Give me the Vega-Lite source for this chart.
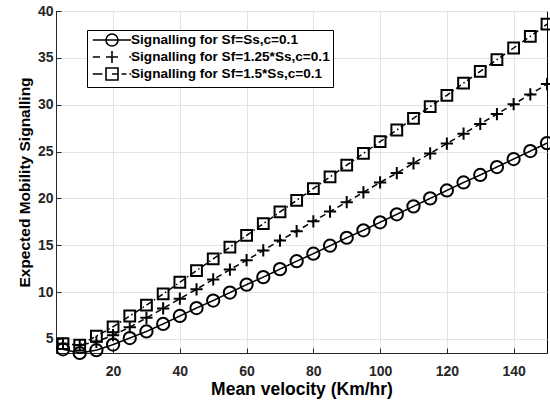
{
  "$schema": "https://vega.github.io/schema/vega-lite/v6.json",
  "width": 491,
  "height": 342,
  "autosize": "none",
  "padding": {"left": 56, "top": 11, "right": 3, "bottom": 48},
  "background": "white",
  "config": {
    "font": "Liberation Sans",
    "view": {"stroke": "black", "strokeWidth": 1},
    "axis": {
      "labelFont": "Liberation Sans",
      "labelFontWeight": "bold",
      "labelFontSize": 14,
      "labelColor": "#262626",
      "titleFont": "Liberation Sans",
      "titleFontWeight": "bold",
      "titleColor": "black",
      "gridColor": "#e3e3e3",
      "gridWidth": 1,
      "domainColor": "#262626",
      "tickColor": "#262626",
      "tickSize": -5
    },
    "legend": {
      "labelFont": "Liberation Sans",
      "labelFontWeight": "bold",
      "labelFontSize": 13.6,
      "labelColor": "black",
      "labelLimit": 400,
      "strokeColor": "black",
      "fillColor": "white",
      "padding": 3,
      "rowPadding": -6,
      "symbolStrokeWidth": 1.6,
      "symbolSize": 144,
      "symbolStrokeColor": "black",
      "symbolFillColor": "transparent",
      "symbolOffset": 15,
      "labelOffset": 12
    }
  },
  "data": {
    "values": [
      {"v": 5, "s": 3.9, "series": "Signalling for Sf=Ss,c=0.1"},
      {"v": 10, "s": 3.5, "series": "Signalling for Sf=Ss,c=0.1"},
      {"v": 15, "s": 3.8, "series": "Signalling for Sf=Ss,c=0.1"},
      {"v": 20, "s": 4.4, "series": "Signalling for Sf=Ss,c=0.1"},
      {"v": 25, "s": 5.1, "series": "Signalling for Sf=Ss,c=0.1"},
      {"v": 30, "s": 5.8, "series": "Signalling for Sf=Ss,c=0.1"},
      {"v": 35, "s": 6.6, "series": "Signalling for Sf=Ss,c=0.1"},
      {"v": 40, "s": 7.45, "series": "Signalling for Sf=Ss,c=0.1"},
      {"v": 45, "s": 8.3, "series": "Signalling for Sf=Ss,c=0.1"},
      {"v": 50, "s": 9.1, "series": "Signalling for Sf=Ss,c=0.1"},
      {"v": 55, "s": 9.95, "series": "Signalling for Sf=Ss,c=0.1"},
      {"v": 60, "s": 10.8, "series": "Signalling for Sf=Ss,c=0.1"},
      {"v": 65, "s": 11.6, "series": "Signalling for Sf=Ss,c=0.1"},
      {"v": 70, "s": 12.45, "series": "Signalling for Sf=Ss,c=0.1"},
      {"v": 75, "s": 13.3, "series": "Signalling for Sf=Ss,c=0.1"},
      {"v": 80, "s": 14.1, "series": "Signalling for Sf=Ss,c=0.1"},
      {"v": 85, "s": 14.95, "series": "Signalling for Sf=Ss,c=0.1"},
      {"v": 90, "s": 15.8, "series": "Signalling for Sf=Ss,c=0.1"},
      {"v": 95, "s": 16.6, "series": "Signalling for Sf=Ss,c=0.1"},
      {"v": 100, "s": 17.45, "series": "Signalling for Sf=Ss,c=0.1"},
      {"v": 105, "s": 18.3, "series": "Signalling for Sf=Ss,c=0.1"},
      {"v": 110, "s": 19.15, "series": "Signalling for Sf=Ss,c=0.1"},
      {"v": 115, "s": 20.0, "series": "Signalling for Sf=Ss,c=0.1"},
      {"v": 120, "s": 20.85, "series": "Signalling for Sf=Ss,c=0.1"},
      {"v": 125, "s": 21.7, "series": "Signalling for Sf=Ss,c=0.1"},
      {"v": 130, "s": 22.5, "series": "Signalling for Sf=Ss,c=0.1"},
      {"v": 135, "s": 23.35, "series": "Signalling for Sf=Ss,c=0.1"},
      {"v": 140, "s": 24.2, "series": "Signalling for Sf=Ss,c=0.1"},
      {"v": 145, "s": 25.05, "series": "Signalling for Sf=Ss,c=0.1"},
      {"v": 150, "s": 25.9, "series": "Signalling for Sf=Ss,c=0.1"},
      {"v": 5, "s": 4.5, "series": "Signalling for Sf=1.25*Ss,c=0.1"},
      {"v": 10, "s": 4.35, "series": "Signalling for Sf=1.25*Ss,c=0.1"},
      {"v": 15, "s": 4.7, "series": "Signalling for Sf=1.25*Ss,c=0.1"},
      {"v": 20, "s": 5.4, "series": "Signalling for Sf=1.25*Ss,c=0.1"},
      {"v": 25, "s": 6.25, "series": "Signalling for Sf=1.25*Ss,c=0.1"},
      {"v": 30, "s": 7.25, "series": "Signalling for Sf=1.25*Ss,c=0.1"},
      {"v": 35, "s": 8.25, "series": "Signalling for Sf=1.25*Ss,c=0.1"},
      {"v": 40, "s": 9.3, "series": "Signalling for Sf=1.25*Ss,c=0.1"},
      {"v": 45, "s": 10.3, "series": "Signalling for Sf=1.25*Ss,c=0.1"},
      {"v": 50, "s": 11.35, "series": "Signalling for Sf=1.25*Ss,c=0.1"},
      {"v": 55, "s": 12.4, "series": "Signalling for Sf=1.25*Ss,c=0.1"},
      {"v": 60, "s": 13.4, "series": "Signalling for Sf=1.25*Ss,c=0.1"},
      {"v": 65, "s": 14.45, "series": "Signalling for Sf=1.25*Ss,c=0.1"},
      {"v": 70, "s": 15.5, "series": "Signalling for Sf=1.25*Ss,c=0.1"},
      {"v": 75, "s": 16.5, "series": "Signalling for Sf=1.25*Ss,c=0.1"},
      {"v": 80, "s": 17.55, "series": "Signalling for Sf=1.25*Ss,c=0.1"},
      {"v": 85, "s": 18.6, "series": "Signalling for Sf=1.25*Ss,c=0.1"},
      {"v": 90, "s": 19.6, "series": "Signalling for Sf=1.25*Ss,c=0.1"},
      {"v": 95, "s": 20.65, "series": "Signalling for Sf=1.25*Ss,c=0.1"},
      {"v": 100, "s": 21.7, "series": "Signalling for Sf=1.25*Ss,c=0.1"},
      {"v": 105, "s": 22.7, "series": "Signalling for Sf=1.25*Ss,c=0.1"},
      {"v": 110, "s": 23.75, "series": "Signalling for Sf=1.25*Ss,c=0.1"},
      {"v": 115, "s": 24.8, "series": "Signalling for Sf=1.25*Ss,c=0.1"},
      {"v": 120, "s": 25.85, "series": "Signalling for Sf=1.25*Ss,c=0.1"},
      {"v": 125, "s": 26.9, "series": "Signalling for Sf=1.25*Ss,c=0.1"},
      {"v": 130, "s": 27.95, "series": "Signalling for Sf=1.25*Ss,c=0.1"},
      {"v": 135, "s": 29.0, "series": "Signalling for Sf=1.25*Ss,c=0.1"},
      {"v": 140, "s": 30.05, "series": "Signalling for Sf=1.25*Ss,c=0.1"},
      {"v": 145, "s": 31.1, "series": "Signalling for Sf=1.25*Ss,c=0.1"},
      {"v": 150, "s": 32.2, "series": "Signalling for Sf=1.25*Ss,c=0.1"},
      {"v": 5, "s": 4.5, "series": "Signalling for Sf=1.5*Ss,c=0.1"},
      {"v": 10, "s": 4.35, "series": "Signalling for Sf=1.5*Ss,c=0.1"},
      {"v": 15, "s": 5.3, "series": "Signalling for Sf=1.5*Ss,c=0.1"},
      {"v": 20, "s": 6.3, "series": "Signalling for Sf=1.5*Ss,c=0.1"},
      {"v": 25, "s": 7.45, "series": "Signalling for Sf=1.5*Ss,c=0.1"},
      {"v": 30, "s": 8.6, "series": "Signalling for Sf=1.5*Ss,c=0.1"},
      {"v": 35, "s": 9.8, "series": "Signalling for Sf=1.5*Ss,c=0.1"},
      {"v": 40, "s": 11.05, "series": "Signalling for Sf=1.5*Ss,c=0.1"},
      {"v": 45, "s": 12.3, "series": "Signalling for Sf=1.5*Ss,c=0.1"},
      {"v": 50, "s": 13.55, "series": "Signalling for Sf=1.5*Ss,c=0.1"},
      {"v": 55, "s": 14.8, "series": "Signalling for Sf=1.5*Ss,c=0.1"},
      {"v": 60, "s": 16.05, "series": "Signalling for Sf=1.5*Ss,c=0.1"},
      {"v": 65, "s": 17.3, "series": "Signalling for Sf=1.5*Ss,c=0.1"},
      {"v": 70, "s": 18.55, "series": "Signalling for Sf=1.5*Ss,c=0.1"},
      {"v": 75, "s": 19.8, "series": "Signalling for Sf=1.5*Ss,c=0.1"},
      {"v": 80, "s": 21.05, "series": "Signalling for Sf=1.5*Ss,c=0.1"},
      {"v": 85, "s": 22.3, "series": "Signalling for Sf=1.5*Ss,c=0.1"},
      {"v": 90, "s": 23.55, "series": "Signalling for Sf=1.5*Ss,c=0.1"},
      {"v": 95, "s": 24.8, "series": "Signalling for Sf=1.5*Ss,c=0.1"},
      {"v": 100, "s": 26.05, "series": "Signalling for Sf=1.5*Ss,c=0.1"},
      {"v": 105, "s": 27.3, "series": "Signalling for Sf=1.5*Ss,c=0.1"},
      {"v": 110, "s": 28.55, "series": "Signalling for Sf=1.5*Ss,c=0.1"},
      {"v": 115, "s": 29.8, "series": "Signalling for Sf=1.5*Ss,c=0.1"},
      {"v": 120, "s": 31.0, "series": "Signalling for Sf=1.5*Ss,c=0.1"},
      {"v": 125, "s": 32.3, "series": "Signalling for Sf=1.5*Ss,c=0.1"},
      {"v": 130, "s": 33.55, "series": "Signalling for Sf=1.5*Ss,c=0.1"},
      {"v": 135, "s": 34.8, "series": "Signalling for Sf=1.5*Ss,c=0.1"},
      {"v": 140, "s": 36.05, "series": "Signalling for Sf=1.5*Ss,c=0.1"},
      {"v": 145, "s": 37.3, "series": "Signalling for Sf=1.5*Ss,c=0.1"},
      {"v": 150, "s": 38.6, "series": "Signalling for Sf=1.5*Ss,c=0.1"}
    ]
  },
  "encoding": {
    "x": {
      "field": "v",
      "type": "quantitative",
      "scale": {"domain": [2.9, 150], "nice": false, "zero": false},
      "axis": {"values": [20, 40, 60, 80, 100, 120, 140], "title": "Mean velocity (Km/hr)", "titleFontSize": 17.5, "labelPadding": 16, "titlePadding": 2}
    },
    "y": {
      "field": "s",
      "type": "quantitative",
      "scale": {"domain": [3.5, 40], "nice": false, "zero": false},
      "axis": {"values": [5, 10, 15, 20, 25, 30, 35, 40], "title": "Expected Mobility Signalling", "titleFontSize": 15.5, "labelPadding": 8, "titlePadding": 5}
    },
    "color": {
      "field": "series",
      "type": "nominal",
      "scale": {
        "domain": ["Signalling for Sf=Ss,c=0.1", "Signalling for Sf=1.25*Ss,c=0.1", "Signalling for Sf=1.5*Ss,c=0.1"],
        "range": ["black", "black", "black"]
      },
      "legend": null
    }
  },
  "layer": [
    {
      "mark": {"type": "line", "strokeWidth": 1.5},
      "encoding": {
        "strokeDash": {
          "field": "series",
          "type": "nominal",
          "scale": {
            "domain": ["Signalling for Sf=Ss,c=0.1", "Signalling for Sf=1.25*Ss,c=0.1", "Signalling for Sf=1.5*Ss,c=0.1"],
            "range": [[1, 0], [6, 4], [6, 3, 1.5, 3]]
          },
          "legend": null
        }
      }
    },
    {
      "mark": {"type": "point", "filled": false, "size": 150, "strokeWidth": 2, "opacity": 1},
      "encoding": {
        "shape": {
          "field": "series",
          "type": "nominal",
          "scale": {
            "domain": ["Signalling for Sf=Ss,c=0.1", "Signalling for Sf=1.25*Ss,c=0.1", "Signalling for Sf=1.5*Ss,c=0.1"],
            "range": ["circle", "M-1,0H1M0,-1V1", "M-0.88,-0.88H0.88V0.88H-0.88Z"]
          },
          "legend": null
        }
      }
    },
    {
      "transform": [{"filter": "false"}],
      "mark": {"type": "point", "filled": false, "strokeWidth": 1.6, "opacity": 1},
      "encoding": {
        "shape": {
          "field": "series",
          "type": "nominal",
          "scale": {
            "domain": ["Signalling for Sf=Ss,c=0.1", "Signalling for Sf=1.25*Ss,c=0.1", "Signalling for Sf=1.5*Ss,c=0.1"],
            "range": [
              "M-3.2,0H3.2M-1,0A1,1 0 1,0 1,0A1,1 0 1,0 -1,0",
              "M-3.2,0H-2M-1,0H1M0,-1V1M2.9,0H3.2",
              "M-3.2,0H-1.6M-1,-1H1V1H-1ZM0,0H1M1.6,0H2.4M2.9,0H3.2"
            ]
          },
          "legend": {"title": null, "orient": "none", "legendX": 31, "legendY": 19}
        }
      }
    }
  ],
  "resolve": {"scale": {"shape": "independent"}}
}
